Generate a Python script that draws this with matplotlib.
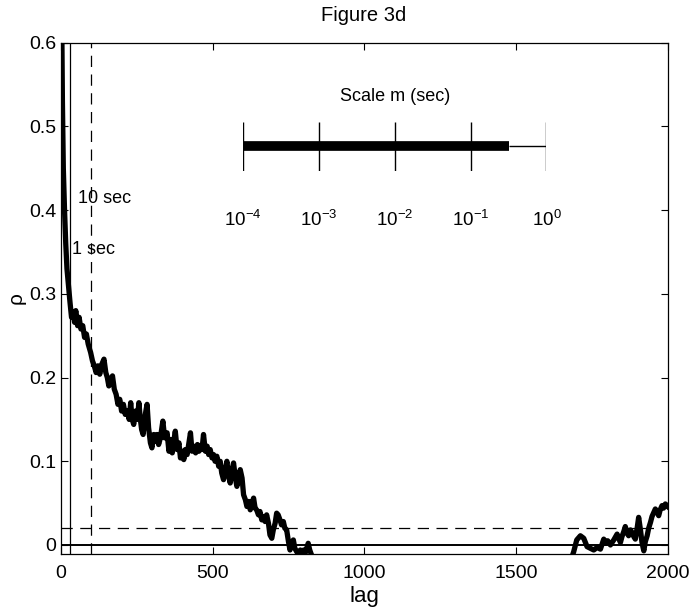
import matplotlib.pyplot as plt
import numpy as np

plt.rcParams['font.family'] = ['Liberation Sans', 'DejaVu Sans']
plt.rcParams['mathtext.fontset'] = 'custom'
plt.rcParams['mathtext.rm'] = 'Liberation Sans'

# autocorrelation rho against lag, as (lag, rho) pairs
curve = [
    (0, 1.00), (3, 0.62), (5, 0.53), (8, 0.45), (12, 0.40), (16, 0.36), (20, 0.33),
    (25, 0.31), (30, 0.29), (35, 0.272), (40, 0.278), (45, 0.266), (49, 0.280),
    (55, 0.262), (60, 0.272), (66, 0.258), (72, 0.262), (78, 0.248), (84, 0.252),
    (90, 0.240), (98, 0.230), (104, 0.220), (110, 0.214), (116, 0.206), (122, 0.214),
    (128, 0.204), (135, 0.216), (142, 0.222), (148, 0.206), (153, 0.200), (158, 0.190),
    (164, 0.198), (170, 0.202), (176, 0.186), (182, 0.180), (188, 0.168), (194, 0.174),
    (200, 0.160), (206, 0.168), (212, 0.156), (219, 0.160), (225, 0.150), (230, 0.170),
    (235, 0.150), (240, 0.144), (246, 0.160), (252, 0.150), (257, 0.170), (262, 0.150),
    (266, 0.138), (271, 0.132), (276, 0.150), (280, 0.160), (284, 0.168), (289, 0.140),
    (295, 0.122), (300, 0.116), (306, 0.132), (311, 0.124), (317, 0.132), (322, 0.120),
    (328, 0.128), (336, 0.148), (342, 0.128), (350, 0.134), (356, 0.112), (362, 0.126),
    (367, 0.110), (372, 0.124), (377, 0.136), (383, 0.114), (389, 0.122), (394, 0.104),
    (400, 0.112), (405, 0.102), (410, 0.114), (416, 0.108), (422, 0.122), (427, 0.134),
    (432, 0.112), (438, 0.118), (444, 0.110), (450, 0.120), (455, 0.112), (460, 0.118),
    (465, 0.114), (470, 0.132), (476, 0.112), (482, 0.118), (487, 0.108), (492, 0.114),
    (498, 0.104), (503, 0.108), (508, 0.100), (514, 0.106), (520, 0.094), (525, 0.100),
    (530, 0.086), (536, 0.078), (541, 0.088), (547, 0.100), (552, 0.084), (558, 0.074),
    (563, 0.088), (569, 0.098), (575, 0.080), (580, 0.070), (586, 0.082), (591, 0.090),
    (597, 0.080), (602, 0.060), (608, 0.054), (613, 0.046), (619, 0.052), (624, 0.042),
    (630, 0.050), (635, 0.056), (640, 0.044), (645, 0.042), (651, 0.036), (656, 0.040),
    (662, 0.030), (667, 0.034), (673, 0.028), (678, 0.036), (684, 0.026), (689, 0.012),
    (695, 0.008), (700, 0.018), (706, 0.026), (711, 0.038), (716, 0.036), (722, 0.030),
    (727, 0.024), (733, 0.028), (738, 0.020), (744, 0.018), (750, 0.004), (755, -0.006),
    (760, 0.000), (766, 0.006), (771, -0.004), (777, -0.008), (783, -0.011), (789, -0.006),
    (795, -0.010), (800, -0.006), (806, -0.009), (810, -0.004), (815, 0.002), (820, -0.006),
    (826, -0.012), (831, -0.030), (850, -0.040), (1000, -0.040), (1300, -0.040),
    (1600, -0.040), (1670, -0.030), (1690, -0.008), (1700, 0.006), (1712, 0.011),
    (1723, 0.008), (1734, -0.002), (1745, -0.004), (1756, -0.006), (1767, -0.003),
    (1778, -0.005), (1789, 0.007), (1795, 0.002), (1802, 0.005), (1811, 0.000),
    (1822, 0.006), (1833, 0.013), (1838, 0.008), (1844, 0.003), (1849, 0.010),
    (1855, 0.016), (1860, 0.022), (1866, 0.014), (1871, 0.011), (1877, 0.018),
    (1882, 0.015), (1888, 0.010), (1893, 0.007), (1899, 0.020), (1904, 0.033),
    (1910, 0.018), (1915, 0.003), (1921, -0.007), (1926, 0.004), (1932, 0.011),
    (1937, 0.020), (1943, 0.027), (1948, 0.034), (1953, 0.038), (1959, 0.043),
    (1964, 0.040), (1970, 0.035), (1975, 0.042), (1981, 0.047), (1986, 0.044),
    (1992, 0.049), (2000, 0.046),
]
lag = np.array([p[0] for p in curve])
rho = np.array([p[1] for p in curve])

# scale bar: range of time scales m (sec)
scales = np.array([1e-4, 1e-3, 1e-2, 1e-1, 1e0])
scale_labels = ['$10^{-4}$', '$10^{-3}$', '$10^{-2}$', '$10^{-1}$', '$10^{0}$']
m_used = 0.32

fig = plt.figure(figsize=(6.92, 6.11), dpi=100)
ax = fig.add_axes([0.088, 0.093, 0.877, 0.837])

ax.plot(lag, rho, color='black', lw=3.8, solid_joinstyle='round')
ax.axhline(0, color='black', lw=1.4)
ax.axhline(0.02, color='black', lw=0.9, dashes=(9, 6))
ax.axvline(30, color='black', lw=0.9)
ax.axvline(100, color='black', lw=0.9, dashes=(9, 6))

ax.text(56, 0.414, '10 sec', fontsize=13, va='center')
ax.text(36, 0.353, '1 sec', fontsize=13, va='center')

ax.set_xlim(0, 2000)
ax.set_ylim(-0.011, 0.6)
ax.set_xticks([0, 500, 1000, 1500, 2000])
ax.set_yticks([0, 0.1, 0.2, 0.3, 0.4, 0.5, 0.6])
ax.set_yticklabels(['0', '0.1', '0.2', '0.3', '0.4', '0.5', '0.6'])
ax.tick_params(direction='in', top=True, right=True, labelsize=14, length=5, width=0.8)
ax.tick_params(axis='x', pad=8)
for s in ax.spines.values():
    s.set_linewidth(0.9)

ax.set_xlabel('lag', fontsize=16, labelpad=3)
ax.set_ylabel('ρ', fontsize=15, labelpad=2)
fig.text(0.525, 0.975, 'Figure 3d', fontsize=14.5, ha='center', va='center')

# scale bar inset
axin = ax.inset_axes([0.3, 0.75, 0.5, 0.095])
axin.set_xscale('log')
axin.set_xlim(1e-4, 1)
axin.set_ylim(0, 1)
axin.axis('off')
axin.vlines(scales, 0, 1, color='black', lw=1)
axin.hlines(0.5, scales[0], m_used, color='black', lw=7)
axin.hlines(0.5, m_used, scales[-1], color='black', lw=1)
for s, t in zip(scales, scale_labels):
    axin.text(s, -1.0, t, fontsize=13.5, ha='center', va='center')
axin.text(np.sqrt(scales[0] * scales[-1]), 1.52, 'Scale m (sec)', fontsize=13,
          ha='center', va='center')

fig.savefig('out.png', dpi=100)
